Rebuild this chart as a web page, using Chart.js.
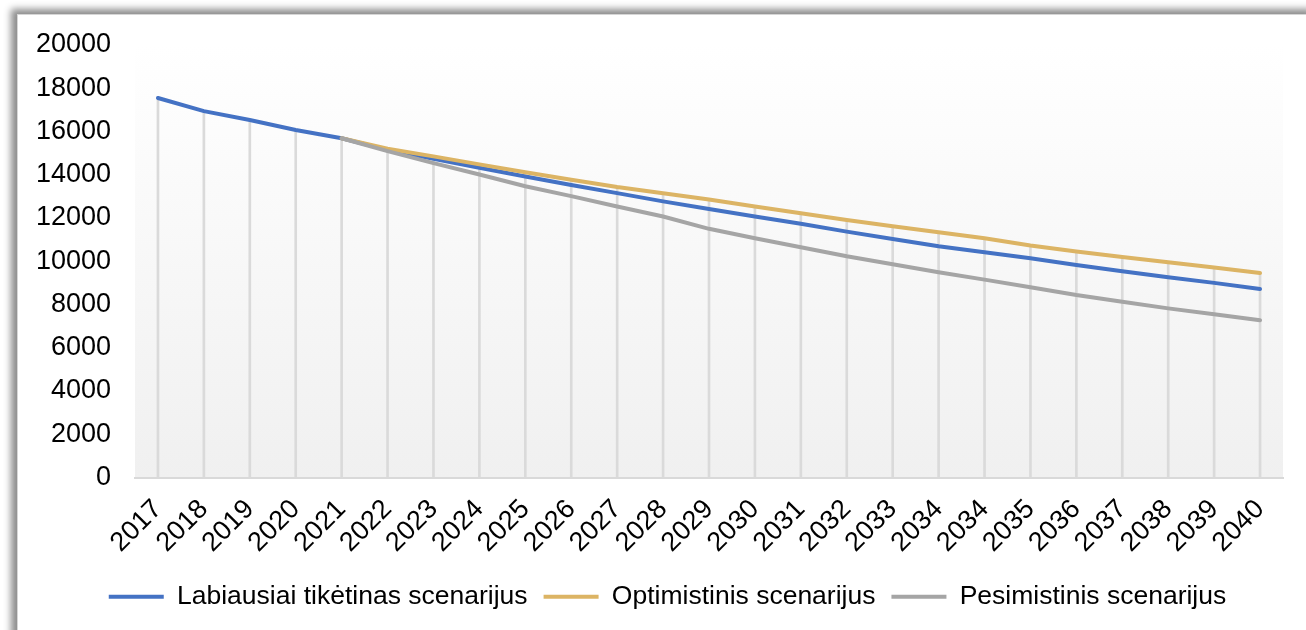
<!DOCTYPE html>
<html>
<head>
<meta charset="utf-8">
<title>Scenarijai</title>
<style>
  html, body { margin: 0; padding: 0; background: #fff; overflow: hidden; }
  #frame {
    position: absolute; left: 17px; top: 14px; width: 1300px; height: 630px;
    background: #fff; border-left: 1px solid #d6d6d6; border-top: 1px solid #d6d6d6;
    box-shadow: -6px -5px 7px rgba(0,0,0,0.45);
  }
  #wrap { position: absolute; left: 0; top: 0; width: 1289px; height: 616px; }
</style>
</head>
<body>
<div id="frame"><div id="wrap"><canvas id="chart"></canvas></div></div>
<script src="https://cdn.jsdelivr.net/npm/chart.js"></script>
<script>
// data
var years = ['2017','2018','2019','2020','2021','2022','2023','2024','2025','2026','2027','2028',
  '2029','2030','2031','2032','2033','2034','2034','2035','2036','2037','2038','2039','2040'];
var likely = [17550,16940,16530,16070,15690,15150,14740,14320,13920,13530,13150,12770,
  12420,12070,11730,11370,11030,10690,10420,10140,9830,9540,9260,9000,8720];
var optimistic = [null,null,null,null,15690,15200,14850,14480,14120,13770,13430,13140,
  12860,12530,12220,11910,11620,11340,11060,10730,10450,10200,9950,9710,9460];
var pessimistic = [null,null,null,null,15690,15090,14540,14010,13470,13010,12530,12070,
  11500,11060,10650,10230,9860,9490,9150,8800,8440,8130,7820,7550,7270];
var yTicks = [0,2000,4000,6000,8000,10000,12000,14000,16000,18000,20000];

// drop lines go from the top series down to the axis
var dropTops = years.map(function(y, i){
  return Math.max(likely[i] || 0, optimistic[i] || 0, pessimistic[i] || 0);
});

var plotBg = {
  id: 'plotBg',
  afterLayout: function(chart){
    // y labels sit in the left padding, so let them draw there
    chart.scales.y.left = 0;
  },
  beforeDraw: function(chart){
    var a = chart.chartArea, ctx = chart.ctx;
    var g = ctx.createLinearGradient(0, a.top, 0, a.bottom);
    g.addColorStop(0, '#ffffff');
    g.addColorStop(1, '#f0f0f0');
    ctx.save();
    ctx.fillStyle = g;
    ctx.fillRect(a.left, a.top, a.right - a.left, a.bottom - a.top);
    ctx.restore();
  }
};

var fam = '"Liberation Sans", Arial, sans-serif';
var tickFont = { family: fam, size: 27 };
var legendFont = { family: fam, size: 26.5 };

new Chart(document.getElementById('chart'), {
  data: {
    labels: years,
    datasets: [
      { type: 'line', label: 'Labiausiai tikėtinas scenarijus', data: likely,
        borderColor: '#4472C4', backgroundColor: '#4472C4', borderWidth: 4,
        pointRadius: 0, tension: 0, borderCapStyle: 'round', order: 3 },
      { type: 'line', label: 'Optimistinis scenarijus', data: optimistic,
        borderColor: '#DCB464', backgroundColor: '#DCB464', borderWidth: 4,
        pointRadius: 0, tension: 0, borderCapStyle: 'round', order: 2 },
      { type: 'line', label: 'Pesimistinis scenarijus', data: pessimistic,
        borderColor: '#A5A5A5', backgroundColor: '#A5A5A5', borderWidth: 4,
        pointRadius: 0, tension: 0, borderCapStyle: 'round', order: 1 },
      { type: 'bar', label: 'drop', data: dropTops, backgroundColor: '#dadada',
        barThickness: 2, order: 4 }
    ]
  },
  options: {
    responsive: true,
    maintainAspectRatio: false,
    animation: false,
    layout: { padding: { top: 30, right: 24, left: 34, bottom: 11 } },
    plugins: {
      tooltip: { enabled: false },
      legend: {
        position: 'bottom',
        labels: {
          color: '#000', font: legendFont,
          usePointStyle: true, pointStyle: 'line', pointStyleWidth: 55,
          padding: 16,
          sort: function(a, b){ return a.datasetIndex - b.datasetIndex; },
          filter: function(item){ return item.text !== 'drop'; }
        }
      }
    },
    scales: {
      x: {
        afterFit: function(s){ s.height = 90; },
        grid: { display: false, drawTicks: false },
        border: { display: true, color: '#d9d9d9', width: 2 },
        ticks: { color: '#000', font: tickFont, maxRotation: 45, minRotation: 45, autoSkip: false, padding: 16 }
      },
      y: {
        min: 0, max: 20000,
        afterBuildTicks: function(s){ s.ticks = yTicks.map(function(v){ return { value: v }; }); },
        afterFit: function(s){ s.width = 83; s.paddingTop = 0; s.paddingBottom = 0; },
        grid: { display: false, drawTicks: false },
        border: { display: false },
        ticks: { color: '#000', font: tickFont, padding: 24,
          callback: function(v){ return String(v); } }
      }
    }
  },
  plugins: [plotBg]
});
</script>
</body>
</html>
